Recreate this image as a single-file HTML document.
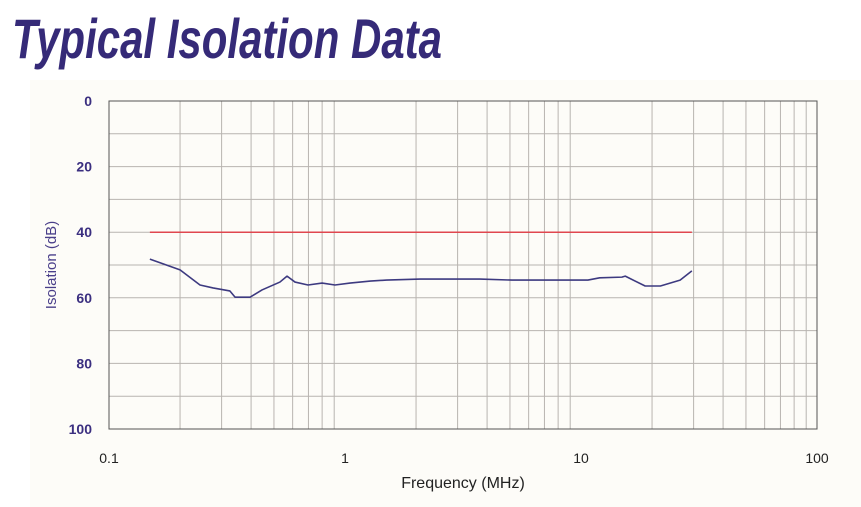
<!DOCTYPE html>
<html><head><meta charset="utf-8"><style>
html,body{margin:0;padding:0;background:#fff;}
svg{display:block;}
</style></head><body>
<svg id="chart" width="861" height="507" viewBox="0 0 861 507" xmlns="http://www.w3.org/2000/svg">
<rect x="0" y="0" width="861" height="507" fill="#ffffff"/>
<rect x="30" y="80" width="831" height="427" fill="#fdfcf8"/>
<text x="12" y="58" font-family="Liberation Sans, sans-serif" font-size="56" font-weight="bold" font-style="italic" fill="#352a78" textLength="430" lengthAdjust="spacingAndGlyphs">Typical Isolation Data</text>
<g id="grid"></g>
<g id="axes"></g>
<g id="series"></g>
<text x="56" y="265" transform="rotate(-90 56 265)" text-anchor="middle" font-family="Liberation Sans, sans-serif" font-size="15" fill="#4a3f8a">Isolation (dB)</text>
<text x="463" y="488" text-anchor="middle" font-family="Liberation Sans, sans-serif" font-size="16" fill="#222">Frequency (MHz)</text>
</svg>
<script>
const xTicks = [0.1, 1, 10, 100];
const xTickLabels = ["0.1", "1", "10", "100"];
const yTicks = [0, 20, 40, 60, 80, 100];
const yTickLabels = ["0", "20", "40", "60", "80", "100"];
const limitFreq = [0.149, 29.5];
const limitDb = [40, 40];
const freq = [0.149,0.2,0.243,0.276,0.325,0.342,0.396,0.445,0.53,0.568,0.614,0.697,0.8,0.907,1.05,1.28,1.5,2.08,3.73,5.1,10.7,12,14.9,15.4,18.7,21.7,26.3,29.5];
const isolationDb = [48.2,51.5,56.1,57,57.9,59.8,59.8,57.6,55.2,53.4,55.2,56.1,55.5,56.1,55.5,54.9,54.6,54.3,54.3,54.6,54.6,53.9,53.7,53.4,56.4,56.4,54.6,51.8];

const L=109,R=817,T=101,B=429;
function xs(f){return L+(Math.log10(f)+1)/3*(R-L);}
function ys(d){return T+d/100*(B-T);}
const NS="http://www.w3.org/2000/svg";
function mk(tag,attrs,parent){const e=document.createElementNS(NS,tag);for(const k in attrs)e.setAttribute(k,attrs[k]);parent.appendChild(e);return e;}
const grid=document.getElementById('grid'),axes=document.getElementById('axes'),series=document.getElementById('series');
for(let d=10;d<100;d+=10){
  const l=mk('line',{x1:L,x2:R,y1:ys(d),y2:ys(d),stroke:'#b8b4b0','stroke-width':1},grid);
  
  
}
for(let dec=0.1;dec<100;dec*=10){
  for(let m=2;m<=9;m++){
    const l=mk('line',{x1:xs(dec*m),x2:xs(dec*m),y1:T,y2:B,stroke:'#b8b4b0','stroke-width':1},grid);
    
    
  }
}
const fr=mk('rect',{x:L,y:T,width:R-L,height:B-T,fill:'none',stroke:'#555','stroke-width':1},axes);


yTicks.forEach((v,i)=>{
  const t=mk('text',{x:92,y:ys(v)+5,'text-anchor':'end','font-family':'Liberation Sans, sans-serif','font-size':14,'font-weight':'bold',fill:'#3b2f80'},axes);
  t.textContent=yTickLabels[i];
  
  
});
xTicks.forEach((v,i)=>{
  const t=mk('text',{x:xs(v),y:463,'text-anchor':'middle','font-family':'Liberation Sans, sans-serif','font-size':14,fill:'#222'},axes);
  t.textContent=xTickLabels[i];
  
  
});
const lim=mk('polyline',{points:limitFreq.map((f,i)=>xs(f)+','+ys(limitDb[i])).join(' '),fill:'none',stroke:'#e0474f','stroke-width':1.5},series);


const cur=mk('polyline',{points:freq.map((f,i)=>xs(f)+','+ys(isolationDb[i])).join(' '),fill:'none',stroke:'#3d3a80','stroke-width':1.6,'stroke-linejoin':'round'},series);


</script>
</body></html>
